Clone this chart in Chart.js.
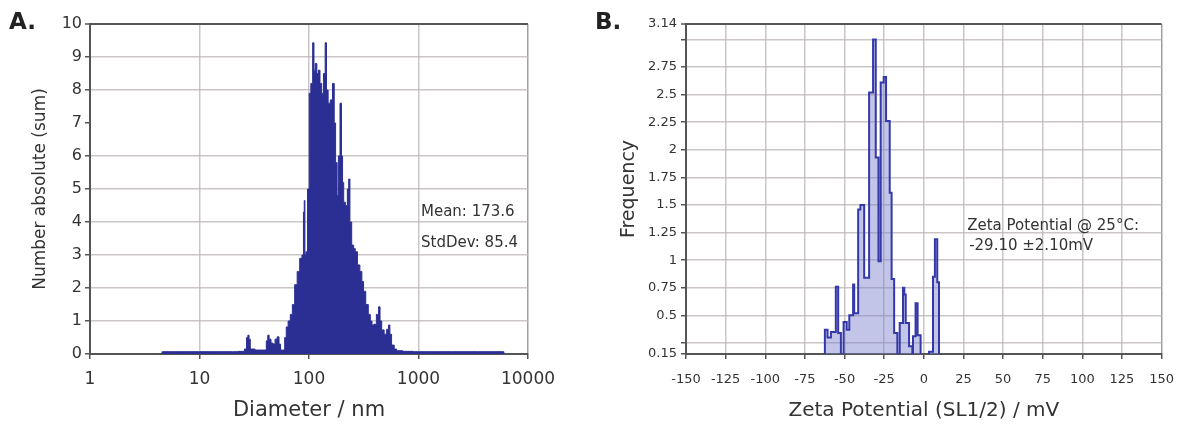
<!DOCTYPE html>
<html><head><meta charset="utf-8">
<script src="https://cdn.jsdelivr.net/npm/chart.js@4/dist/chart.umd.min.js"></script>
<style>
html,body{margin:0;padding:0;background:#fff;}
body{width:1187px;height:431px;position:relative;overflow:hidden;font-family:"DejaVu Sans",sans-serif;}
canvas{position:absolute;top:0;}
#ca{left:0;}
#cb{left:590px;}
.lbl{position:absolute;font:bold 23px "DejaVu Sans",sans-serif;color:#222;line-height:23px;}
</style></head><body>
<canvas id="ca" width="590" height="431"></canvas>
<canvas id="cb" width="597" height="431"></canvas>
<div class="lbl" style="left:9px;top:10px">A.</div>
<div class="lbl" style="left:595px;top:10px">B.</div>
<script>
// ---------- Panel A: particle size distribution ----------
const diameterNm = [
  4.5, 4.6, 10, 20, 25, 26.5, 27.3, 28, 28.7, 29.5,
  35, 40, 41.5, 42.5, 44, 46, 48, 50, 52.5, 54,
  56, 59, 61, 63, 66, 69, 72, 76, 80, 84.5,
  88, 90, 91, 92.5, 95, 99, 102, 106, 110, 112,
  116, 120, 124, 128, 133, 138, 143, 146, 153, 160,
  168, 172, 178, 183, 188, 196, 200, 205, 210, 220,
  228, 233, 240, 251, 260, 269, 285, 298, 310, 320,
  340, 356, 370, 382, 400, 425, 439, 452, 471, 500,
  525, 541, 555, 581, 620, 645, 800, 1000, 2000, 6000,
  6050
];
const countA = [
  0, 0.07, 0.07, 0.07, 0.08, 0.15, 0.5, 0.57, 0.45, 0.15,
  0.12, 0.12, 0.4, 0.57, 0.45, 0.33, 0.3, 0.45, 0.52, 0.3,
  0.12, 0.12, 0.5, 0.82, 1.0, 1.2, 1.5, 2.1, 2.5, 2.9,
  3.0, 4.3, 4.65, 3.0, 3.1, 5.0, 7.9, 8.2, 9.43, 8.6,
  8.8, 8.5, 8.6, 8.2, 7.9, 8.5, 9.43, 8.0, 7.6, 7.7,
  8.2, 7.0, 5.8, 4.8, 6.0, 7.6, 6.0, 5.2, 4.6, 4.5,
  5.0, 5.3, 4.0, 3.3, 3.2, 3.1, 2.7, 2.5, 2.2, 1.9,
  1.5, 1.2, 1.0, 0.88, 0.9, 1.2, 1.43, 1.0, 0.73, 0.6,
  0.75, 0.88, 0.6, 0.27, 0.15, 0.1, 0.08, 0.07, 0.07, 0.07,
  0
];
const xTicksA = [1, 10, 100, 1000, 10000];
const yTicksA = [0, 1, 2, 3, 4, 5, 6, 7, 8, 9, 10];
const notesA = [
  {x: 1054, y: 4.3, text: 'Mean: 173.6'},
  {x: 1054, y: 3.35, text: 'StdDev: 85.4'}
];

// ---------- Panel B: zeta potential ----------
const zetaMv = [
  -64, -62.4, -60.7, -58.6, -55.5, -54, -52.3, -50.6, -48.6, -47,
  -44.6, -43.9, -41.4, -40, -37.6, -34.5, -32, -30.3, -28.6, -27.2,
  -25.3, -23.8, -21.5, -20.3, -18.7, -16.7, -15.2, -13.1, -12.3, -11.4,
  -9.3, -7.2, -6.8, -5.2, -3.9, -2, 3.3, 5.8, 7, 8.5,
  9.6
];
const freqB = [
  0, 0.37, 0.30, 0.35, 0.76, 0.34, 0, 0.44, 0.37, 0.50,
  0.78, 0.52, 1.46, 1.5, 0.84, 2.52, 3.0, 1.93, 0.99, 2.61,
  2.66, 2.26, 1.61, 0.83, 0.34, 0, 0.43, 0.75, 0.69, 0.43,
  0.22, 0, 0.31, 0.61, 0.32, 0, 0.17, 0.85, 1.19, 0.8,
  0
];
const yTicksB = [0.15, 0.25, 0.5, 0.75, 1, 1.25, 1.5, 1.75, 2, 2.25, 2.5, 2.75, 3, 3.14];
const yTickLabelsB = ['0.15', '', '0.5', '0.75', '1', '1.25', '1.5', '1.75', '2', '2.25', '2.5', '2.75', '', '3.14'];
const notesB = [
  {x: 27.4, y: 1.31, text: 'Zeta Potential @ 25\u00B0C:'},
  {x: 28.6, y: 1.13, text: '-29.10 \u00B12.10mV'}
];

const F = '"DejaVu Sans", sans-serif';
const TXT = '#333';
const GRID = 'rgba(190,182,182,0.8)';
const AXIS = '#555';

const notesPlugin = {
  id: 'notes',
  afterDatasetsDraw(chart, args, opts) {
    const ctx = chart.ctx;
    ctx.save();
    ctx.font = opts.font;
    ctx.fillStyle = opts.color;
    ctx.textBaseline = 'middle';
    ctx.textAlign = 'left';
    opts.items.forEach(it => {
      ctx.fillText(it.text, chart.scales.x.getPixelForValue(it.x), chart.scales.y.getPixelForValue(it.y));
    });
    ctx.restore();
  }
};

new Chart(document.getElementById('ca'), {
  type: 'line',
  data: {
    datasets: [{
      data: diameterNm.map((d, i) => ({x: d, y: countA[i]})),
      borderColor: '#2b2f93',
      backgroundColor: '#2b2f93',
      borderWidth: 1,
      pointRadius: 0,
      stepped: 'middle',
      fill: 'origin'
    }]
  },
  options: {
    responsive: false,
    animation: false,
    layout: {padding: {left: 28, top: 24, right: 62, bottom: 0}},
    plugins: {
      legend: {display: false},
      tooltip: {enabled: false},
      notes: {font: '15px ' + F, color: TXT, items: notesA}
    },
    scales: {
      x: {
        type: 'logarithmic', min: 1, max: 10000,
        afterBuildTicks: s => { s.ticks = xTicksA.map(v => ({value: v})); },
        ticks: {callback: v => String(v), font: {family: F, size: 17}, color: TXT, padding: 10, maxRotation: 0, autoSkip: false},
        grid: {
          color: c => (c.tick && c.tick.value === 10000) ? '#a0a0a0' : GRID,
          lineWidth: 1.5, tickLength: 5, tickColor: AXIS, tickWidth: 1.5
        },
        border: {color: AXIS, width: 2},
        title: {display: true, text: 'Diameter / nm', font: {family: F, size: 21}, color: TXT, padding: {top: 0, bottom: 8}},
        afterFit: s => { s.height = 77; }
      },
      y: {
        min: 0, max: 10,
        afterBuildTicks: s => { s.ticks = yTicksA.map(v => ({value: v})); },
        ticks: {font: {family: F, size: 16}, color: TXT, padding: 3},
        grid: {
          color: c => {
            const v = c.tick ? c.tick.value : null;
            if (v === 10) return AXIS;
            if (v === 7) return 'rgba(0,0,0,0)';
            return GRID;
          },
          lineWidth: c => (c.tick && c.tick.value === 10) ? 2 : 1.5,
          tickLength: 5, tickColor: AXIS, tickWidth: 1.5
        },
        border: {color: AXIS, width: 2},
        title: {display: true, text: 'Number absolute (sum)', font: {family: F, size: 17}, color: TXT, padding: {top: 2, bottom: 0}},
        afterFit: s => { s.width = 62; }
      }
    }
  },
  plugins: [notesPlugin]
});

new Chart(document.getElementById('cb'), {
  type: 'line',
  data: {
    datasets: [{
      data: zetaMv.map((m, i) => ({x: m, y: freqB[i]})),
      borderColor: '#3438a8',
      backgroundColor: 'rgba(120,126,205,0.45)',
      borderWidth: 2,
      pointRadius: 0,
      stepped: 'before',
      fill: 'origin'
    }]
  },
  options: {
    responsive: false,
    animation: false,
    layout: {padding: {left: 26, top: 24, right: 25, bottom: 0}},
    plugins: {
      legend: {display: false},
      tooltip: {enabled: false},
      notes: {font: '15px ' + F, color: TXT, items: notesB}
    },
    scales: {
      x: {
        type: 'linear', min: -150, max: 150,
        ticks: {stepSize: 25, font: {family: F, size: 13}, color: TXT, padding: 13, maxRotation: 0, autoSkip: false},
        grid: {
          color: c => (c.tick && c.tick.value === 150) ? '#a0a0a0' : GRID,
          lineWidth: 1.5, tickLength: 5, tickColor: AXIS, tickWidth: 1.5
        },
        border: {color: AXIS, width: 2},
        title: {display: true, text: 'Zeta Potential (SL1/2) / mV', font: {family: F, size: 20}, color: TXT, padding: {top: 0, bottom: 8}},
        afterFit: s => { s.height = 77; }
      },
      y: {
        min: 0.15, max: 3.14,
        afterBuildTicks: s => { s.ticks = yTicksB.map(v => ({value: v})); },
        ticks: {callback: (v, i) => yTickLabelsB[i], font: {family: F, size: 13}, color: TXT, padding: 4},
        grid: {
          color: c => (c.tick && c.tick.value === 3.14) ? AXIS : GRID,
          lineWidth: c => (c.tick && c.tick.value === 3.14) ? 2 : 1.5,
          tickLength: 5, tickColor: AXIS, tickWidth: 1.5
        },
        border: {color: AXIS, width: 2},
        title: {display: true, text: 'Frequency', font: {family: F, size: 19}, color: TXT, padding: {top: 2, bottom: 0}},
        afterFit: s => { s.width = 70; }
      }
    }
  },
  plugins: [notesPlugin]
});
</script>
</body></html>
